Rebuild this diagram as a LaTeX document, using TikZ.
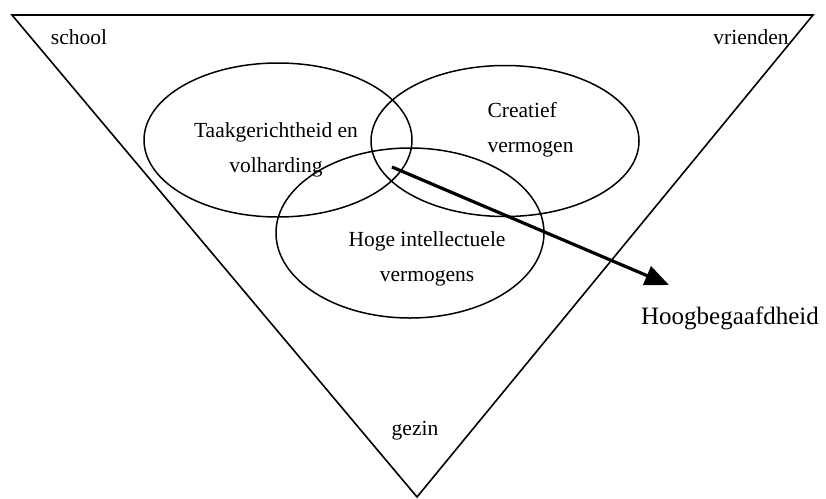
\documentclass[tikz,border=0pt]{standalone}
\usepackage{fontspec}
\setmainfont{Liberation Serif}
\usetikzlibrary{shapes.geometric,arrows.meta}

\begin{document}
\begin{tikzpicture}[x=1pt,y=-1pt,
  ring/.style={draw,ellipse,line width=1.5pt,minimum width=268pt},
  txt/.style={font=\fontsize{21.5}{35}\selectfont,align=center}]
  \useasboundingbox (0,0) rectangle (826,498);
  % the triangle of school, vrienden and gezin
  \coordinate (tl) at (12,15);
  \coordinate (tr) at (813,15);
  \coordinate (bt) at (417,497);
  \draw[line width=1.6pt,line join=miter] (tl)--(tr)--(bt)--cycle;
  \node[txt] (school) at (79,37) {school};
  \node[txt] (vrienden) at (751,37) {vrienden};
  \node[txt] (gezin) at (415,431) {gezin};
  % the three rings
  \node[ring,minimum height=154pt] (taak) at (278,140) {};
  \node[ring,minimum height=151pt] (creatief) at (505,141) {};
  \node[ring,minimum height=170pt] (hoge) at (410,233) {};
  \node[txt] (taaktxt) at (276,150) {Taakgerichtheid en\\volharding};
  \node[txt,align=left,anchor=west] (creatieftxt) at (484,130) {Creatief\\vermogen};
  \node[txt] (hogetxt) at (427,259) {Hoge intellectuele\\vermogens};
  % the arrow
  \coordinate (start) at (392,167);
  \coordinate (tip) at (669,285);
  \draw[line width=3.2pt,-{Triangle[length=24pt,width=20pt]}] (start)--(tip);
  \node[font=\fontsize{25}{30}\selectfont] (hoog) at (730,318) {Hoogbegaafdheid};
\end{tikzpicture}
\end{document}
